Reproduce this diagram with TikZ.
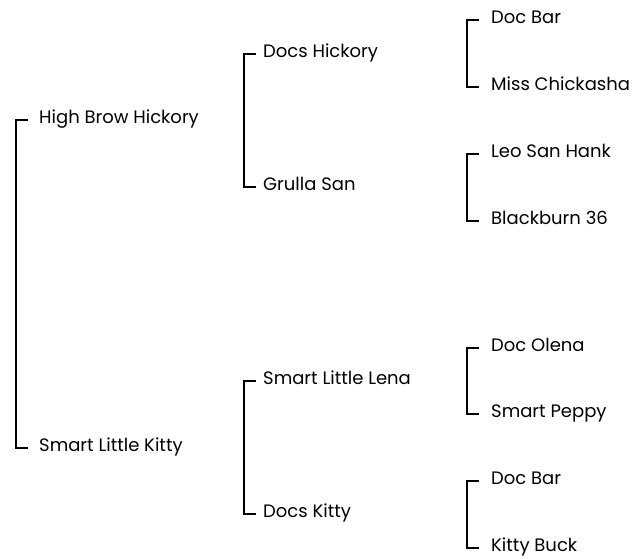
\documentclass[tikz,border=0pt]{standalone}
\usepackage{fontspec}
\setmainfont{Poppins}
\usepackage{tikz}
\usetikzlibrary{positioning,calc}
\tikzset{
  horse/.style={anchor=west, inner sep=0pt, text height=0.7em, text depth=0pt,
                font=\fontsize{18}{22}\selectfont},
  brk/.style={draw=black, line width=1.7pt},
}

\begin{document}
\begin{tikzpicture}[x=1pt,y=1pt]
  \useasboundingbox (0,0) rectangle (632,-558);

  % generation 1
  \node[horse] (hbh) at (39,-120) {High Brow Hickory};
  \node[horse] (slk) at (39,-448) {Smart Little Kitty};

  % generation 2
  \node[horse] (dh)  at (263,-54)  {Docs Hickory};
  \node[horse] (gs)  at (263,-187) {Grulla San};
  \node[horse] (sll) at (263,-381) {Smart Little Lena};
  \node[horse] (dk)  at (263,-514) {Docs Kitty};

  % generation 3
  \foreach \n/\y/\t in {dba/-20/Doc Bar, mc/-87/Miss Chickasha,
                        lsh/-154/Leo San Hank, bb/-221/Blackburn 36,
                        dol/-348/Doc Olena, sp/-414/Smart Peppy,
                        dbb/-481/Doc Bar, kb/-548/Kitty Buck}
    \node[horse] (\n) at (491,\y) {\t};

  % brackets
  \foreach \a/\b/\g in {hbh/slk/11, dh/gs/7, sll/dk/7,
                        dba/mc/12, lsh/bb/12, dol/sp/12, dbb/kb/12}
    \draw[brk] ([xshift=-\g pt]\a.west) -- ++(-12,0) |- ([xshift=-\g pt]\b.west);
\end{tikzpicture}
\end{document}
